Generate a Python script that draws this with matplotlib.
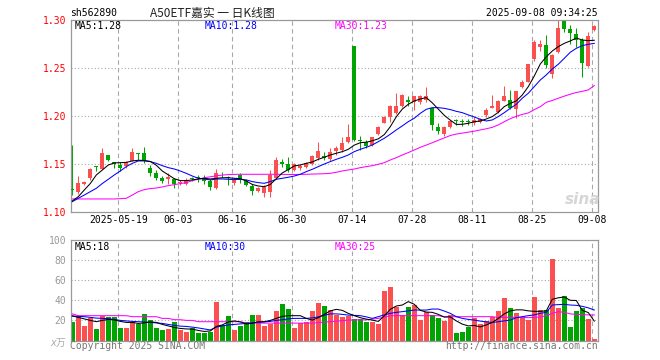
import matplotlib
matplotlib.use("Agg")
import matplotlib.pyplot as plt

W, H = 660, 360
MONO = ["DejaVu Sans Mono", "Noto Sans CJK SC"]
RED = "#fa5050"
GREEN = "#00a400"
GRID = "#a8a8a8"

plt.rcParams["font.family"] = MONO

# шапка
code = "sh562890"
title = "A50ETF嘉实 一 日K线图"
stamp = "2025-09-08 09:34:25"

# подписи дат (индекс свечи)
date_idx = [8, 18, 27, 37, 47, 57, 67, 77, 87]
date_labels = ["2025-05-19", "06-03", "06-16", "06-30", "07-14",
               "07-28", "08-11", "08-25", "09-08"]

price_ticks = [1.10, 1.15, 1.20, 1.25, 1.30]
vol_ticks = [20, 40, 60, 80, 100]

opens = [1.124, 1.121, 1.129, 1.1354, 1.148, 1.1455, 1.160, 1.152, 1.1497, 1.148,
         1.1538, 1.161, 1.1622, 1.1465, 1.1413, 1.1358, 1.1347, 1.1345, 1.1302, 1.1292,
         1.1356, 1.1358, 1.1345, 1.1329, 1.1256, 1.141, 1.137, 1.1302, 1.1389, 1.133,
         1.1277, 1.1226, 1.1205, 1.1215, 1.1354, 1.1528, 1.1503, 1.144, 1.1458, 1.1476,
         1.1503, 1.1563, 1.159, 1.1552, 1.1642, 1.165, 1.1736, 1.2735, 1.1755, 1.173,
         1.1701, 1.1816, 1.1934, 1.1997, 1.2031, 1.2108, 1.2175, 1.2145, 1.215, 1.217,
         1.209, 1.1885, 1.1816, 1.1885, 1.1952, 1.1946, 1.1946, 1.1931, 1.1944, 1.2014,
         1.209, 1.2049, 1.216, 1.217, 1.2076, 1.2308, 1.236, 1.260, 1.2725, 1.2743,
         1.244, 1.2675, 1.2995, 1.291, 1.2862, 1.279, 1.2527, 1.290]
highs = [1.170, 1.138, 1.133, 1.146, 1.1485, 1.167, 1.160, 1.1528, 1.1528, 1.1535,
         1.1667, 1.1615, 1.1684, 1.1493, 1.144, 1.1378, 1.1406, 1.1355, 1.1336, 1.1354,
         1.137, 1.1385, 1.1385, 1.1347, 1.1448, 1.1425, 1.1378, 1.1354, 1.1406, 1.1347,
         1.1295, 1.1267, 1.1285, 1.144, 1.1573, 1.1556, 1.158, 1.151, 1.1503, 1.1528,
         1.1597, 1.1736, 1.1625, 1.1667, 1.1691, 1.1781, 1.192, 1.2735, 1.1795, 1.1753,
         1.1788, 1.1899, 1.2003, 1.2118, 1.224, 1.2233, 1.221, 1.2215, 1.222, 1.2309,
         1.209, 1.1927, 1.190, 1.196, 1.197, 1.1968, 1.197, 1.1993, 1.1979, 1.2083,
         1.2222, 1.217, 1.2318, 1.2272, 1.2264, 1.2375, 1.2545, 1.2795, 1.2795, 1.2847,
         1.265, 1.300, 1.300, 1.2955, 1.292, 1.2815, 1.288, 1.2955]
lows = [1.118, 1.119, 1.128, 1.134, 1.143, 1.145, 1.153, 1.146, 1.143, 1.146,
        1.1535, 1.1545, 1.151, 1.138, 1.1337, 1.131, 1.129, 1.125, 1.128, 1.1285,
        1.133, 1.1318, 1.130, 1.123, 1.1245, 1.137, 1.128, 1.128, 1.1303, 1.127,
        1.118, 1.1215, 1.1163, 1.1157, 1.1345, 1.1476, 1.1424, 1.143, 1.1445, 1.1462,
        1.1493, 1.1545, 1.1545, 1.1538, 1.1597, 1.1632, 1.1719, 1.1745, 1.165, 1.1667,
        1.1694, 1.1806, 1.1927, 1.1944, 1.2024, 1.2101, 1.211, 1.2066, 1.2128, 1.2146,
        1.1858, 1.1816, 1.180, 1.1875, 1.191, 1.1903, 1.191, 1.191, 1.1927, 1.1997,
        1.2083, 1.2031, 1.2155, 1.2075, 1.198, 1.230, 1.236, 1.258, 1.268, 1.250,
        1.2395, 1.266, 1.288, 1.2755, 1.272, 1.241, 1.251, 1.289]
closes = [1.123, 1.131, 1.132, 1.145, 1.1475, 1.162, 1.1545, 1.150, 1.1465, 1.152,
          1.1628, 1.1605, 1.1545, 1.1413, 1.1354, 1.1326, 1.1365, 1.129, 1.1319, 1.1334,
          1.1352, 1.1354, 1.1325, 1.1267, 1.1406, 1.1405, 1.1355, 1.1336, 1.1336, 1.1288,
          1.1218, 1.125, 1.1267, 1.139, 1.1545, 1.1503, 1.144, 1.1503, 1.1483, 1.1517,
          1.1587, 1.1639, 1.1563, 1.1625, 1.1667, 1.1719, 1.1785, 1.1755, 1.1738, 1.169,
          1.178, 1.1892, 1.1997, 1.2111, 1.2111, 1.2222, 1.2145, 1.221, 1.2212, 1.2215,
          1.191, 1.1847, 1.1892, 1.1951, 1.1948, 1.1942, 1.1942, 1.1958, 1.1972, 1.2066,
          1.2111, 1.216, 1.2213, 1.2088, 1.2264, 1.2354, 1.2542, 1.2777, 1.275, 1.2535,
          1.2635, 1.2915, 1.291, 1.2865, 1.279, 1.2555, 1.2836, 1.294]

ma5 = [1.1118, 1.1163, 1.1233, 1.130, 1.1389, 1.144, 1.1493, 1.1514, 1.1517, 1.152,
       1.1535, 1.1542, 1.154, 1.153, 1.149, 1.143, 1.139, 1.135, 1.133, 1.133,
       1.1337, 1.1347, 1.1354, 1.1347, 1.1354, 1.136, 1.136, 1.1354, 1.135, 1.1326,
       1.129, 1.1274, 1.1267, 1.129, 1.135, 1.141, 1.1445, 1.1483, 1.1493, 1.151,
       1.1524, 1.1552, 1.1573, 1.1597, 1.1615, 1.1632, 1.1656, 1.170, 1.1725, 1.173,
       1.1745, 1.1765, 1.181, 1.1892, 1.1995, 1.2075, 1.2125, 1.216, 1.218, 1.2195,
       1.214, 1.2075, 1.201, 1.196, 1.1915, 1.1917, 1.1927, 1.1944, 1.1951, 1.1972,
       1.1997, 1.2042, 1.2101, 1.2135, 1.216, 1.2222, 1.2309, 1.242, 1.2545, 1.262,
       1.268, 1.2726, 1.276, 1.2785, 1.2815, 1.2795, 1.2788, 1.2792]
ma10 = [1.1111, 1.1146, 1.118, 1.1215, 1.125, 1.130, 1.1344, 1.1389, 1.143, 1.1476,
        1.151, 1.1535, 1.1535, 1.1528, 1.151, 1.1486, 1.1465, 1.1451, 1.143, 1.1406,
        1.1378, 1.1354, 1.1347, 1.1337, 1.1347, 1.1347, 1.1344, 1.134, 1.1345, 1.1337,
        1.132, 1.1309, 1.1302, 1.132, 1.1344, 1.1354, 1.1365, 1.1378, 1.1396, 1.1424,
        1.1448, 1.1476, 1.1503, 1.1528, 1.1552, 1.1573, 1.1597, 1.1632, 1.1656, 1.1677,
        1.1701, 1.1736, 1.1771, 1.1813, 1.1858, 1.19, 1.1944, 1.198, 1.2031, 1.2073,
        1.209, 1.209, 1.2083, 1.207, 1.2052, 1.2038, 1.2014, 1.1993, 1.1969, 1.1951,
        1.1962, 1.1997, 1.2038, 1.2083, 1.2125, 1.2188, 1.224, 1.2309, 1.2378, 1.2431,
        1.2493, 1.2542, 1.2604, 1.2667, 1.2708, 1.2736, 1.275, 1.276]
ma30 = [1.1139, 1.1139, 1.1139, 1.1139, 1.1139, 1.1139, 1.1139, 1.1139, 1.1142, 1.1146,
        1.118, 1.1215, 1.1236, 1.1247, 1.1253, 1.1264, 1.1278, 1.1288, 1.1299, 1.1309,
        1.133, 1.1345, 1.136, 1.137, 1.138, 1.1388, 1.1393, 1.1395, 1.1396, 1.1396,
        1.1396, 1.1396, 1.1396, 1.1396, 1.1396, 1.1395, 1.1394, 1.1394, 1.1395, 1.1396,
        1.1398, 1.14, 1.1402, 1.1406, 1.1417, 1.1431, 1.1441, 1.1451, 1.1465, 1.1476,
        1.1486, 1.15, 1.1517, 1.1545, 1.1569, 1.1597, 1.1622, 1.1649, 1.1677, 1.170,
        1.1725, 1.175, 1.1775, 1.180, 1.1815, 1.1825, 1.1835, 1.1845, 1.1858, 1.187,
        1.1885, 1.191, 1.1944, 1.1975, 1.200, 1.202, 1.2035, 1.207, 1.210, 1.2146,
        1.2165, 1.2188, 1.221, 1.223, 1.2248, 1.226, 1.2275, 1.232]

# объём, x万
volume = [18, 23.7, 14, 22.7, 11.3, 24.7, 23.7, 23.7, 12, 12,
          18, 16.7, 26.7, 20, 12, 10, 11.3, 18, 10, 8.7,
          12, 7, 7, 8.7, 38, 15.3, 24, 10, 14.7, 18,
          25, 25, 14, 16.7, 29.3, 36, 31.3, 12, 17, 18,
          29.3, 37, 34, 30, 25, 23, 24.3, 21, 21, 18,
          18, 16, 49.3, 53, 33.7, 25, 33, 35.3, 20, 28.3,
          25.3, 22, 19.3, 25, 7, 8, 13.3, 22, 16.7, 19.7,
          23, 29, 42, 32, 27, 22, 20, 43, 30.3, 30,
          81, 32, 44, 13, 29, 32, 21, 1.3]
vma5 = [24.5, 23, 21.5, 20, 18.7, 20, 21, 20.5, 19, 18,
        18, 17, 17.5, 18.5, 18, 16, 14.5, 13, 12, 11.5,
        11.3, 10, 9, 9.5, 14, 15.5, 18.5, 19.5, 18.5, 16.5,
        17, 18.7, 18.7, 20, 22, 24, 24.7, 24.7, 24.7, 22,
        20.3, 22.7, 26, 29.5, 31, 30, 27, 24.7, 22.7, 21.3,
        20.3, 19, 24.5, 31, 34.3, 35.3, 38.7, 36, 30, 28.3,
        28, 26, 23.3, 23.5, 19.5, 16.3, 14.5, 15, 13.5, 15.5,
        18, 22, 26.5, 29.5, 30.5, 30.5, 29.5, 29, 29, 29.5,
        41, 42.5, 43.3, 40, 39.8, 30, 27.8, 19.3]
vma10 = [24.3, 24, 23.7, 23, 22.3, 22, 21.7, 21, 20, 19.5,
         19, 18.7, 18.5, 18, 17.5, 17, 16, 15, 14.3, 14,
         13.3, 12.5, 11.5, 10.5, 13.3, 14.5, 15.5, 16, 16.5, 17,
         17.7, 18, 18.5, 19, 20, 20.7, 21.5, 22, 22, 22,
         22.5, 23.5, 25, 26.5, 26.5, 26, 25.3, 25, 24.7, 23.5,
         22, 23.7, 25.5, 27, 28, 28.7, 29.5, 30.3, 30.3, 30.3,
         31.3, 31.3, 29.3, 27, 23.7, 22, 21, 20.3, 19.3, 18.5,
         18, 18.7, 19.5, 20.3, 22.7, 23.7, 24.7, 25.5, 27, 28,
         35.3, 35.7, 36, 35.3, 35, 34, 32.5, 30.3]
vma30 = [26.5, 24.7, 24.7, 24.7, 24.7, 24.7, 24.7, 24.7, 24.7, 24.7,
         23.7, 23.7, 23.7, 23.7, 23.7, 22, 22, 20.7, 20.7, 20,
         20, 18.7, 18.7, 18.7, 18.7, 18.7, 18.7, 18.7, 18.7, 17.3,
         17.3, 17.3, 17.3, 17.3, 17.3, 17.3, 17.3, 17.3, 17.3, 17.3,
         17.3, 17.8, 18.3, 18.7, 19.2, 19.8, 20.3, 20.5, 20.5, 20.5,
         21.3, 22, 23.3, 24.7, 24.7, 24.7, 24.7, 24.7, 24.7, 24.7,
         24.7, 24.7, 23.7, 23.7, 23.7, 23.7, 23.7, 23.7, 23.7, 23.7,
         23.7, 23, 23, 23, 23, 23, 22.7, 23, 23.5, 24.7,
         27, 28.7, 28, 26.5, 26, 25.7, 25.5, 25.3]


def box(x0, y0, x1, y1):
    # пиксели -> доли фигуры
    return [x0 / W, 1 - y1 / H, (x1 - x0) / W, (y1 - y0) / H]


def fxy(x, y):
    return x / W, 1 - y / H


fig = plt.figure(figsize=(6.6, 3.6), dpi=100)
ax = fig.add_axes(box(70.7, 20.3, 597.7, 212.3))
axv = fig.add_axes(box(70.7, 240, 597.7, 340.5))

n = len(closes)
x = list(range(n))
colors = [RED if c >= o else GREEN for o, c in zip(opens, closes)]

for a in (ax, axv):
    a.set_xlim(-0.27, 87.57)
    for s in a.spines.values():
        s.set_color("#999999")
        s.set_linewidth(0.9)
    for d in date_idx:
        a.axvline(d - 0.33, color=GRID, lw=0.8, ls=(0, (4, 3)), zorder=0)

# 1. Свечи
ax.set_ylim(1.10, 1.30)
for g in price_ticks[1:-1]:
    ax.axhline(g, color=GRID, lw=0.8, ls=(0, (1, 2)), zorder=0)

ax.vlines(x, lows, highs, colors=colors, lw=0.75, zorder=2)
bottoms = [min(o, c) for o, c in zip(opens, closes)]
heights = [max(abs(c - o), 0.0009) for o, c in zip(opens, closes)]
ax.bar(x, heights, bottom=bottoms, width=0.72, color=colors, linewidth=0, zorder=3)

ax.plot(x, ma30, color="#ff00ff", lw=0.75, zorder=4)
ax.plot(x, ma10, color="#0000ff", lw=0.75, zorder=4)
ax.plot(x, ma5, color="black", lw=0.75, zorder=5)

ax.set_yticks(price_ticks, labels=[f"{t:.2f}" for t in price_ticks])
ax.tick_params(axis="y", length=0, pad=3, labelcolor="red", labelsize=7)
ax.set_xticks([d - 0.33 for d in date_idx], labels=date_labels)
ax.tick_params(axis="x", length=0, pad=2, labelsize=7)

# 2. Объём
axv.set_ylim(0, 100)
for g in vol_ticks[:-1]:
    axv.axhline(g, color=GRID, lw=0.8, ls=(0, (1, 2)), zorder=0)
axv.bar(x, volume, width=0.82, color=colors, linewidth=0, zorder=2)
axv.plot(x, vma30, color="#ff00ff", lw=0.75, zorder=3)
axv.plot(x, vma10, color="#0000ff", lw=0.75, zorder=3)
axv.plot(x, vma5, color="black", lw=0.75, zorder=4)
axv.set_yticks(vol_ticks, labels=[str(t) for t in vol_ticks])
axv.tick_params(axis="y", length=0, pad=3, labelcolor="#999999", labelsize=7)
axv.set_xticks([])

# 3. Тексты
fig.text(*fxy(70.5, 13), code, ha="left", va="center", size=7)
fig.text(*fxy(150, 13), title, ha="left", va="center", size=8.5,
         family=["Noto Sans CJK SC", "DejaVu Sans"], color="#222222")
fig.text(*fxy(597.7, 13), stamp, ha="right", va="center", size=7)

for y, labels in [(26, ["MA5:1.28", "MA10:1.28", "MA30:1.23"]),
                  (247, ["MA5:18", "MA10:30", "MA30:25"])]:
    for xx, lab, col in zip([75, 205, 335], labels, ["black", "#0000ff", "#ff00ff"]):
        fig.text(*fxy(xx, y), lab, ha="left", va="center", size=7, color=col)

fig.text(*fxy(66, 343), "x万", ha="right", va="center", size=7,
         color="#aaaaaa", style="italic")
fig.text(*fxy(70, 346), "Copyright 2025 SINA.COM", ha="left", va="center",
         size=7, color="#777777")
fig.text(*fxy(597.7, 346), "http://finance.sina.com.cn", ha="right", va="center",
         size=7, color="#777777")
fig.text(*fxy(583, 199), "sina", ha="center", va="center", size=11,
         color="#d6d6d6", style="italic", weight="bold", family="DejaVu Sans")

fig.savefig("out.png", dpi=100, facecolor="white")
